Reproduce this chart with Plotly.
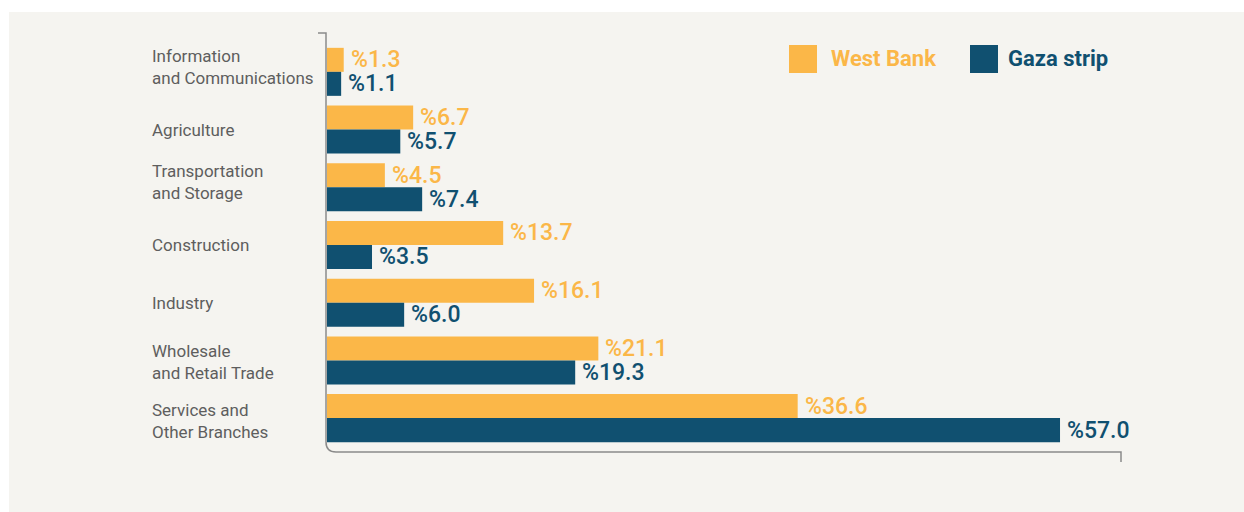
import plotly.graph_objects as go

# Sector shares of employment (%)
categories = [
    "Information<br>and Communications",
    "Agriculture",
    "Transportation<br>and Storage",
    "Construction",
    "Industry",
    "Wholesale<br>and Retail Trade",
    "Services and<br>Other Branches",
]
west_bank = [1.3, 6.7, 4.5, 13.7, 16.1, 21.1, 36.6]
gaza_strip = [1.1, 5.7, 7.4, 3.5, 6.0, 19.3, 57.0]
series_names = ["West Bank", "Gaza strip"]

# Small vertical nudges (px) for the category captions
label_nudge = [5, 0, 5, 0, 0, -2, -3]

ORANGE = "#FBB748"
BLUE = "#105070"
GREY_TXT = "#5e5e5e"
AXIS = "#8a8a8a"
BG = "#F5F4F0"
FONT = "Roboto"

W, H = 1244, 512
L, R, T, B = 327, 1121, 33, 452  # plot area in pixels


def px(x):
    return (x - L) / (R - L)


def py(y):
    return (B - y) / (B - T)


fig = go.Figure()
fig.add_trace(go.Bar(y=categories, x=west_bank, orientation="h", name=series_names[0],
                     marker=dict(color=ORANGE, line=dict(width=0)), offsetgroup="wb"))
fig.add_trace(go.Bar(y=categories, x=gaza_strip, orientation="h", name=series_names[1],
                     marker=dict(color=BLUE, line=dict(width=0)), offsetgroup="gz"))

annotations = []
# Value labels placed just past each bar end (West Bank above, Gaza below)
for i, cat in enumerate(categories):
    for vals, col, shift in ((west_bank, ORANGE, 12), (gaza_strip, BLUE, -12)):
        annotations.append(dict(
            x=vals[i], y=cat, xref="x", yref="y", text=f"%{vals[i]:.1f}",
            showarrow=False, xanchor="left", yanchor="middle", xshift=5, yshift=shift,
            font=dict(family=FONT, size=23, color=col, weight=500),
        ))
    # Category labels, left aligned
    annotations.append(dict(
        x=px(150), y=cat, xref="paper", yref="y", text=cat, showarrow=False,
        xanchor="left", yanchor="middle", align="left", yshift=label_nudge[i],
        font=dict(family=FONT, size=17, color=GREY_TXT),
    ))

# Legend
legend_items = [(series_names[0], ORANGE, 789, 829), (series_names[1], BLUE, 970, 1006)]
shapes = [
    dict(type="rect", xref="paper", yref="paper", x0=px(9), x1=px(W + 5), y0=py(H + 5), y1=py(12),
         fillcolor=BG, line=dict(width=0), layer="below"),
]
for name, col, sx, tx in legend_items:
    shapes.append(dict(type="rect", xref="paper", yref="paper", x0=px(sx), x1=px(sx + 28),
                       y0=py(73), y1=py(45), fillcolor=col, line=dict(width=0)))
    annotations.append(dict(x=px(tx), y=py(58), xref="paper", yref="paper", text=name,
                            showarrow=False, xanchor="left", yanchor="middle",
                            font=dict(family=FONT, size=22, color=col, weight=700)))

# Axis frame: top tick, vertical axis, rounded corner, baseline and end tick
r = 10
path = (f"M {px(318)},{py(33)} L {px(326)},{py(33)} L {px(326)},{py(452 - r)} "
        f"Q {px(326)},{py(452)} {px(326 + r)},{py(452)} L {px(1121)},{py(452)} "
        f"L {px(1121)},{py(462)}")
shapes.append(dict(type="path", xref="paper", yref="paper", path=path,
                   line=dict(color=AXIS, width=1.5)))

fig.update_layout(
    width=W, height=H,
    margin=dict(l=L, r=W - R, t=T, b=H - B, pad=0),
    paper_bgcolor="white", plot_bgcolor="rgba(0,0,0,0)",
    barmode="group", bargap=0.168, bargroupgap=0,
    showlegend=False,
    xaxis=dict(range=[0, (R - L) / 12.86], visible=False, fixedrange=True),
    yaxis=dict(range=[6.587, -0.673], showticklabels=False, showgrid=False,
               zeroline=False, showline=False, ticks="", fixedrange=True),
    shapes=shapes, annotations=annotations,
)

fig.write_html("out.html")
